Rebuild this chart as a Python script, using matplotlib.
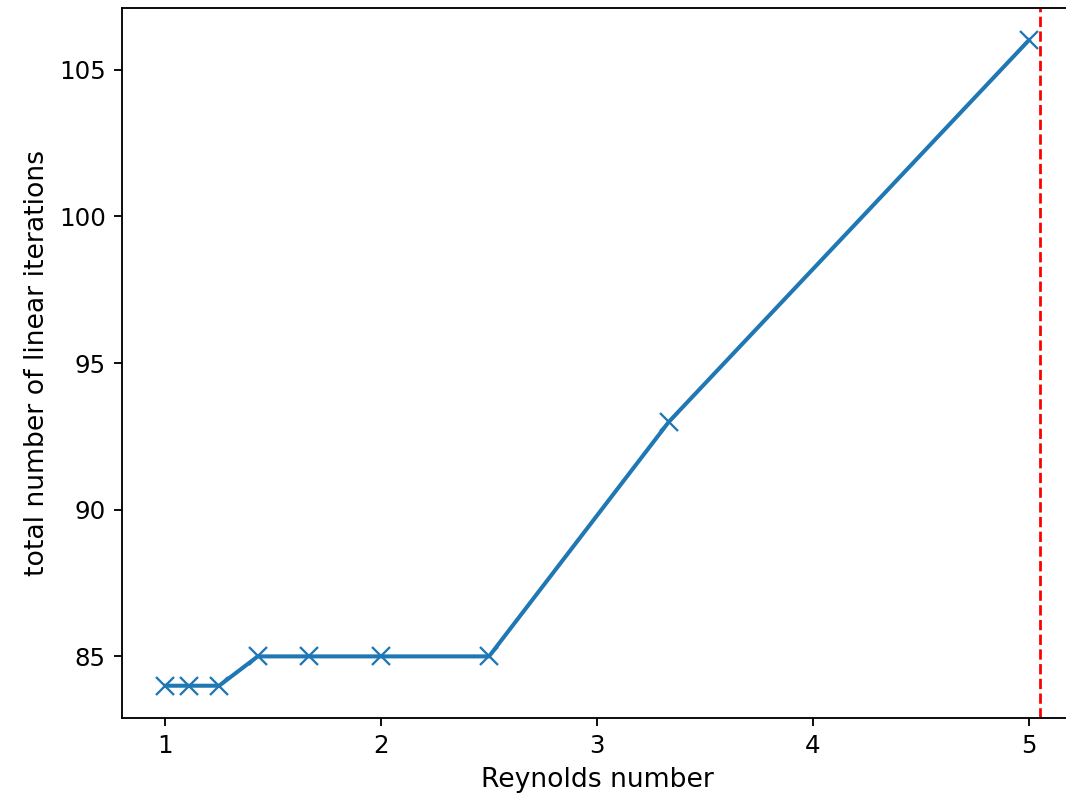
import matplotlib
matplotlib.use("Agg")
import matplotlib.pyplot as plt

# Reynolds number sweep vs. total linear iterations
reynolds = [1.0, 1 / 0.9, 1 / 0.8, 1 / 0.7, 1 / 0.6, 1 / 0.5, 1 / 0.4, 1 / 0.3, 1 / 0.2]
iterations = [84, 84, 84, 85, 85, 85, 85, 93, 106]
critical_re = 5.05

dpi = 1066 / 6.4
fig = plt.figure(figsize=(6.4, 801 / dpi), dpi=dpi)
ax = fig.add_axes([122 / 1066, 83 / 801, 950 / 1066, 710 / 801])

ax.plot(reynolds, iterations, marker="x", markersize=8, linewidth=1.75, color="tab:blue")
ax.axvline(critical_re, color="red", linestyle="--", linewidth=1.2)

ax.set_xlabel("Reynolds number", fontsize=11.5)
ax.set_ylabel("total number of linear iterations", fontsize=11.5)
ax.set_xticks([1, 2, 3, 4, 5])
ax.set_yticks([85, 90, 95, 100, 105])
ax.tick_params(labelsize=10.6)
# the original figure is cropped just before the right spine
ax.spines["right"].set_visible(False)

fig.savefig("out.png", dpi=dpi)
